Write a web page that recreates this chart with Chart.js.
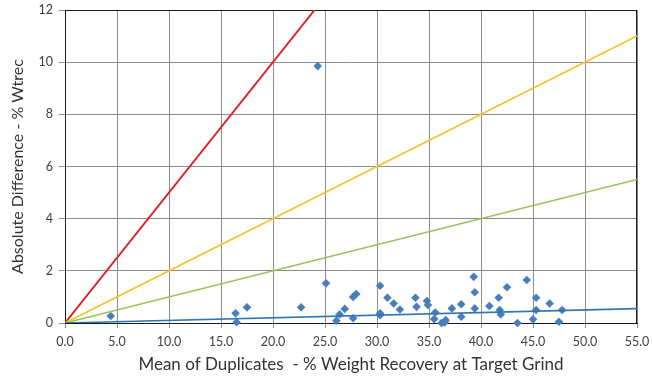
<!DOCTYPE html>
<html><head><meta charset="utf-8">
<script src="https://cdn.jsdelivr.net/npm/chart.js@4"></script>
<style>html,body{margin:0;padding:0;background:#fff}#w{width:653px;height:380px}</style>
</head><body><div id="w"><canvas id="c"></canvas></div>
<script>
const xTickLabels = ["0.0","5.0","10.0","15.0","20.0","25.0","30.0","35.0","40.0","45.0","50.0","55.0"];
const yTickLabels = ["0","2","4","6","8","10","12"];
const meanOfDuplicates = [4.4,16.4,16.5,17.5,22.7,24.3,25.1,26.1,26.4,26.9,27.7,28.0,27.7,30.3,30.3,30.3,31.0,31.6,32.2,33.7,33.8,34.8,34.9,35.6,35.5,36.2,36.6,36.5,37.2,38.1,38.1,39.3,39.4,39.4,40.8,41.7,41.8,41.9,42.5,43.5,44.4,45.3,45.3,45.0,46.6,47.8,47.5];
const absDifference   = [0.27,0.37,0.03,0.6,0.6,9.85,1.52,0.09,0.33,0.54,1.0,1.11,0.18,1.43,0.37,0.3,0.97,0.75,0.52,0.97,0.62,0.84,0.69,0.4,0.15,0.0,0.11,0.02,0.56,0.72,0.24,1.77,1.18,0.56,0.65,0.97,0.5,0.33,1.37,0.0,1.65,0.97,0.5,0.14,0.75,0.5,0.05];
const redLineX = [0, 24], redLineY = [0, 12];
const yellowLineX = [0, 55], yellowLineY = [0, 11];
const greenLineX = [0, 55], greenLineY = [0, 5.5];
const blueLineX = [0, 55], blueLineY = [0, 0.55];

const pts = (xs, ys) => xs.map((x, i) => ({x, y: ys[i]}));
const lineDs = (xs, ys, color, w) => ({type:'line', data: pts(xs, ys), borderColor: color, borderWidth: w, pointRadius: 0, fill: false, tension: 0});

const borderPlugin = {
  id: 'areaBorder',
  beforeDatasetsDraw(chart) {
    const {ctx, chartArea: a} = chart;
    ctx.save();
    ctx.strokeStyle = '#1a1a1a';
    ctx.lineWidth = 1;
    ctx.strokeRect(a.left + 0.5, a.top + 0.5, a.right - a.left - 1, a.bottom - a.top);
    ctx.restore();
  }
};

const FONT = 'Lato, "Open Sans", sans-serif';
new Chart(document.getElementById('c'), {
  type: 'scatter',
  data: {
    datasets: [
      lineDs(blueLineX, blueLineY, '#2f77b0', 1.6),
      lineDs(greenLineX, greenLineY, '#97c459', 1.6),
      lineDs(yellowLineX, yellowLineY, '#f5c42c', 1.6),
      lineDs(redLineX, redLineY, '#dc2424', 2),
      {type:'scatter', data: pts(meanOfDuplicates, absDifference), pointStyle: 'rectRot', pointRadius: 4.3, backgroundColor: '#4a7ebb', borderColor: '#4a7ebb', borderWidth: 0, clip: false}
    ]
  },
  options: {
    responsive: true, maintainAspectRatio: false, animation: false,
    layout: {padding: {left: 0, right: 16, top: 10, bottom: 4}},
    plugins: {legend: {display: false}, tooltip: {enabled: false}},
    scales: {
      x: {
        type: 'linear', min: 0, max: 55,
        afterBuildTicks: s => { s.ticks = xTickLabels.map(v => ({value: parseFloat(v)})); },
        afterFit: s => { s.height = 53; s.paddingLeft = 0; s.paddingRight = 0; },
        ticks: {callback: (v, i) => xTickLabels[i], font: {family: FONT, size: 12.5}, color: '#404040', padding: 6, maxRotation: 0},
        grid: {color: '#8c8c8c', lineWidth: 1, tickLength: 5, tickColor: '#8c8c8c'},
        border: {color: '#1a1a1a'},
        title: {display: true, text: 'Mean of Duplicates  - % Weight Recovery at Target Grind', font: {family: FONT, size: 17}, color: '#333333', padding: {top: 0, bottom: 1}}
      },
      y: {
        type: 'linear', min: 0, max: 12,
        afterBuildTicks: s => { s.ticks = yTickLabels.map(v => ({value: parseFloat(v)})); },
        afterFit: s => { s.width = 65; s.paddingTop = 0; s.paddingBottom = 0; },
        ticks: {callback: (v, i) => yTickLabels[i], font: {family: FONT, size: 12.5}, color: '#404040', padding: 6},
        grid: {color: '#8c8c8c', lineWidth: 1, tickLength: 6, tickColor: '#8c8c8c'},
        border: {color: '#1a1a1a'},
        title: {display: true, text: 'Absolute Difference - % Wtrec', font: {family: FONT, size: 16}, color: '#333333', padding: {top: 8, bottom: 0}}
      }
    }
  },
  plugins: [borderPlugin]
});
</script></body></html>
